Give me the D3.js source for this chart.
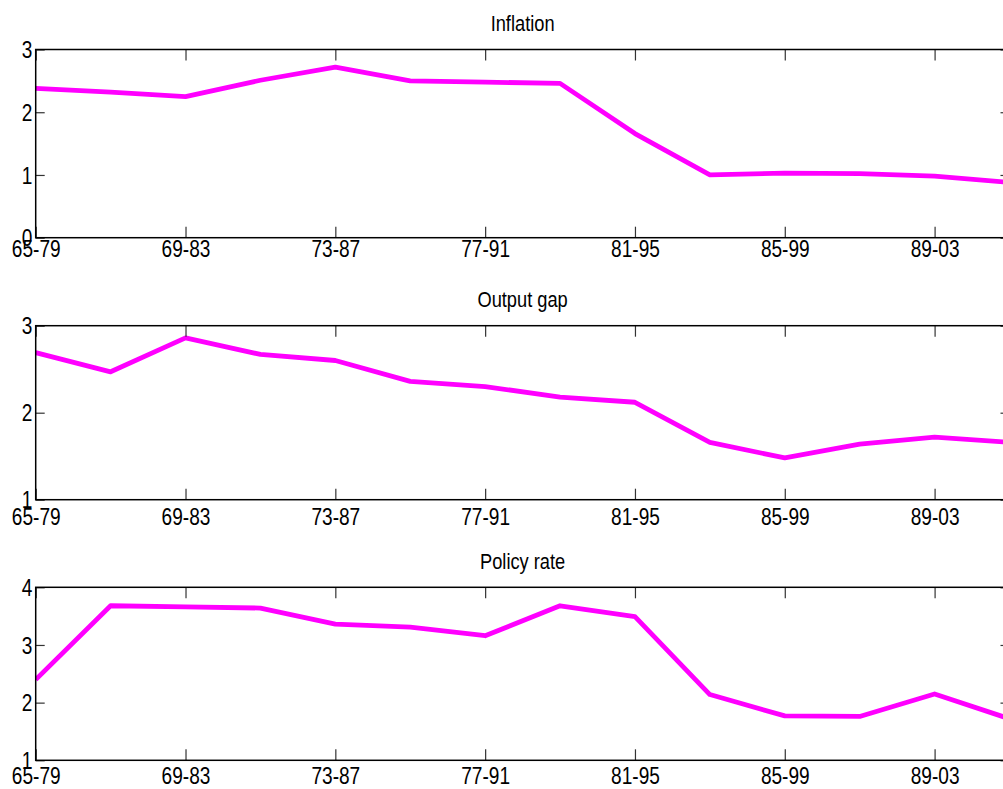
<!DOCTYPE html>
<html>
<head>
<meta charset="utf-8">
<script src="https://cdn.jsdelivr.net/npm/d3@7"></script>
<style>
  html, body { margin: 0; padding: 0; background: #fff; }
  svg { display: block; }
  text { font-family: "Liberation Sans", Arial, sans-serif; fill: #000; }
</style>
</head>
<body>
<svg id="chart" width="1003" height="789"></svg>
<script>
// Rolling 15-year windows
const windows = ["65-79", "67-81", "69-83", "71-85", "73-87", "75-89", "77-91",
                 "79-93", "81-95", "83-97", "85-99", "87-01", "89-03", "91-05"];

const inflation  = [2.38, 2.32, 2.25, 2.51, 2.72, 2.50, 2.48, 2.46, 1.66, 1.00, 1.03, 1.02, 0.98, 0.88];
const outputGap  = [2.69, 2.47, 2.86, 2.67, 2.60, 2.36, 2.30, 2.18, 2.12, 1.66, 1.48, 1.64, 1.72, 1.66];
const policyRate = [2.40, 3.68, 3.66, 3.64, 3.36, 3.31, 3.16, 3.68, 3.49, 2.14, 1.77, 1.76, 2.15, 1.72];

const titles = ["Inflation", "Output gap", "Policy rate"];
const yDomains = [[0, 3], [1, 3], [1, 4]];
const yTicks = [[0, 1, 2, 3], [1, 2, 3], [1, 2, 3, 4]];

// Panel layout: plot box top/bottom, and x label baseline offset below the box
const layout = [
  { top: 49.5,  bottom: 237.7, labelGap: 19.5 },
  { top: 325.7, bottom: 499.7, labelGap: 25 },
  { top: 587.3, bottom: 760.3, labelGap: 24 }
];
const left = 35.7, right = 1009.5;
const squeeze = "scale(0.83,1)";   // condensed lettering

const series = [inflation, outputGap, policyRate];
const svg = d3.select("#chart");

svg.append("rect").attr("width", 1003).attr("height", 789).attr("fill", "#fff");

const x = d3.scalePoint().domain(windows).range([left, right]);
const labelled = windows.filter((d, i) => i % 2 === 0);

series.forEach((values, p) => {
  const L = layout[p];
  const y = d3.scaleLinear().domain(yDomains[p]).range([L.bottom, L.top]);
  const g = svg.append("g");

  const clipId = "clip" + p;
  svg.append("clipPath").attr("id", clipId)
    .append("rect")
    .attr("x", left).attr("y", L.top)
    .attr("width", right - left).attr("height", L.bottom - L.top);

  // Data line
  g.append("path")
    .datum(values)
    .attr("clip-path", `url(#${clipId})`)
    .attr("fill", "none")
    .attr("stroke", "#ff00ff")
    .attr("stroke-width", 4.8)
    .attr("stroke-linejoin", "round")
    .attr("d", d3.line().x((d, i) => x(windows[i])).y(d => y(d)));

  // Inward ticks on all four sides
  const xt = 11, yt = 9;
  const bottomAxis = d3.axisBottom(x).tickValues(labelled).tickSizeInner(-xt).tickSizeOuter(0).tickPadding(0);
  const topAxis = d3.axisTop(x).tickValues(labelled).tickSizeInner(-xt).tickSizeOuter(0).tickFormat("");
  const leftAxis = d3.axisLeft(y).tickValues(yTicks[p]).tickSizeInner(-yt).tickSizeOuter(0).tickPadding(0).tickFormat(d3.format("d"));
  const rightAxis = d3.axisRight(y).tickValues(yTicks[p]).tickSizeInner(-yt).tickSizeOuter(0).tickFormat("");

  const gb = g.append("g").attr("transform", `translate(0,${L.bottom})`).call(bottomAxis);
  const gt = g.append("g").attr("transform", `translate(0,${L.top})`).call(topAxis);
  const gl = g.append("g").attr("transform", `translate(${left},0)`).call(leftAxis);
  const gr = g.append("g").attr("transform", `translate(${right},0)`).call(rightAxis);

  [gb, gt, gl, gr].forEach(a => {
    a.select(".domain").remove();
    a.selectAll(".tick line").attr("stroke", "#333").attr("stroke-width", 1.2);
  });

  gb.selectAll(".tick text")
    .attr("y", L.labelGap).attr("dy", null)
    .attr("transform", squeeze)
    .style("font-size", "23px");
  gl.selectAll(".tick text")
    .attr("x", -4).attr("dy", "0.36em")
    .attr("transform", squeeze)
    .style("font-size", "23px");

  // Plot box
  g.append("rect")
    .attr("x", left).attr("y", L.top)
    .attr("width", right - left).attr("height", L.bottom - L.top)
    .attr("fill", "none").attr("stroke", "#000").attr("stroke-width", 1.5);

  // Panel title
  g.append("g")
    .attr("transform", `translate(${(left + right) / 2},${L.top - 18.5})`)
    .append("text")
    .attr("transform", squeeze)
    .attr("text-anchor", "middle")
    .style("font-size", "22px")
    .text(titles[p]);
});
</script>
</body>
</html>
